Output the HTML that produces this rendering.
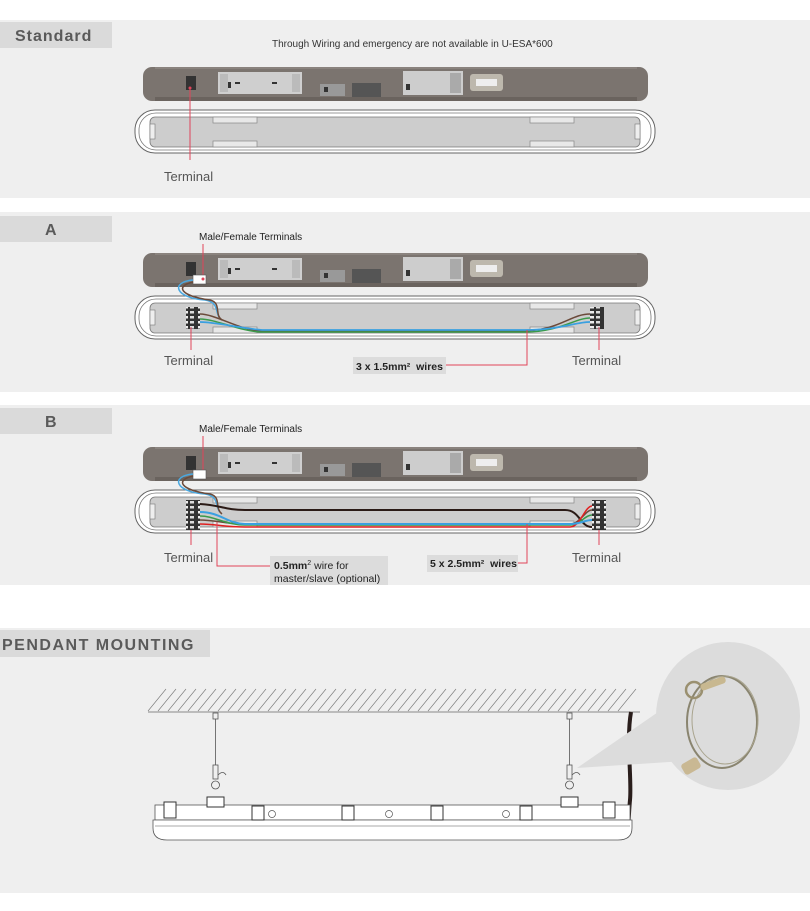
<!DOCTYPE html>
<html><head><meta charset="utf-8"><style>
html,body{margin:0;padding:0;background:#fff;width:810px;height:911px;overflow:hidden}
svg{display:block}
text{font-family:"Liberation Sans",sans-serif}
</style></head><body>
<svg width="810" height="911" viewBox="0 0 810 911" xmlns="http://www.w3.org/2000/svg">
<defs>
<pattern id="tb" width="14" height="5" patternUnits="userSpaceOnUse">
  <rect width="14" height="5" fill="#333"/><rect x="2" y="1" width="4" height="2.5" fill="#eee"/><rect x="8" y="1" width="4" height="2.5" fill="#ddd"/>
</pattern>
<g id="fix">
  <rect x="143" y="67" width="505" height="34" rx="9" fill="#7b746f"/>
  <rect x="155" y="97" width="482" height="4" fill="#6a635e"/>
  <rect x="155" y="67" width="482" height="2" fill="#8a837e"/>
  <rect x="186" y="76" width="10" height="14" fill="#333"/>
  <rect x="218" y="72" width="84" height="22" fill="#cfcfcf"/>
  <rect x="228" y="82" width="3" height="6" fill="#333"/><rect x="235" y="82" width="5" height="2" fill="#333"/><rect x="272" y="82" width="5" height="2" fill="#333"/>
  <rect x="220" y="74" width="8" height="18" fill="#bbb"/><rect x="292" y="74" width="8" height="18" fill="#bbb"/>
  <rect x="320" y="84" width="25" height="12" fill="#999"/><rect x="324" y="87" width="4" height="5" fill="#333"/>
  <rect x="352" y="83" width="29" height="14" fill="#555"/>
  <rect x="403" y="71" width="60" height="24" fill="#cdcdcd"/><rect x="406" y="84" width="4" height="6" fill="#333"/>
  <rect x="450" y="73" width="11" height="20" fill="#aaa"/>
  <rect x="470" y="74" width="33" height="17" rx="3" fill="#bdb8ad"/><rect x="476" y="79" width="21" height="7" fill="#eee"/>
  <rect x="135" y="110" width="520" height="43" rx="20" fill="#fff" stroke="#666" stroke-width="1"/>
  <rect x="139" y="113" width="512" height="37" rx="17" fill="none" stroke="#777" stroke-width="0.8"/>
  <rect x="150" y="117" width="490" height="30" rx="5" fill="#cdcdcd" stroke="#777" stroke-width="0.8"/>
  <rect x="213" y="117" width="44" height="6" fill="#e8e8e8" stroke="#888" stroke-width="0.7"/>
  <rect x="213" y="141" width="44" height="6" fill="#e8e8e8" stroke="#888" stroke-width="0.7"/>
  <rect x="530" y="117" width="44" height="6" fill="#e8e8e8" stroke="#888" stroke-width="0.7"/>
  <rect x="530" y="141" width="44" height="6" fill="#e8e8e8" stroke="#888" stroke-width="0.7"/>
  <rect x="150" y="124" width="5" height="15" fill="#eee" stroke="#777" stroke-width="0.6"/>
  <rect x="635" y="124" width="5" height="15" fill="#eee" stroke="#777" stroke-width="0.6"/>
</g>
</defs>

<rect x="0" y="20" width="810" height="178" fill="#efefef"/>
<rect x="0" y="212" width="810" height="180" fill="#efefef"/>
<rect x="0" y="405" width="810" height="180" fill="#efefef"/>
<rect x="0" y="628" width="810" height="265" fill="#efefef"/>

<rect x="0" y="22" width="112" height="26" fill="#dadada"/>
<text x="15" y="41" font-size="16" font-weight="bold" fill="#5a5a5a" letter-spacing="1">Standard</text>
<rect x="0" y="216" width="112" height="26" fill="#dadada"/>
<text x="45" y="235" font-size="16" font-weight="bold" fill="#5a5a5a">A</text>
<rect x="0" y="408" width="112" height="26" fill="#dadada"/>
<text x="45" y="427" font-size="16" font-weight="bold" fill="#5a5a5a">B</text>
<rect x="0" y="630" width="210" height="27" fill="#dadada"/>
<text x="2" y="650" font-size="16" font-weight="bold" fill="#5a5a5a" letter-spacing="1.5">PENDANT MOUNTING</text>

<text x="272" y="47" font-size="10" fill="#333">Through Wiring and emergency are not available in U-ESA*600</text>
<use href="#fix"/>
<line x1="190" y1="88" x2="190" y2="160" stroke="#e0445a" stroke-width="1"/>
<circle cx="190" cy="88" r="1.5" fill="#e0445a"/>
<text x="164" y="181" font-size="13" fill="#555">Terminal</text>

<g transform="translate(0,186)"><use href="#fix"/></g>
<text x="199" y="240" font-size="10" fill="#222">Male/Female Terminals</text>
<line x1="203" y1="244" x2="203" y2="277" stroke="#e0445a"/>
<rect x="193" y="275" width="13" height="9" fill="#fff" stroke="#555" stroke-width="0.6"/>
<circle cx="203" cy="279" r="1.5" fill="#e0445a"/>
<path d="M193 280 C170 282,175 298,205 300 C220 302,215 315,220 318" fill="none" stroke="#4aa8e0" stroke-width="1.5"/>
<path d="M193 282 C175 286,180 296,210 300 C222 303,214 315,222 320" fill="none" stroke="#6b4a3a" stroke-width="1.5"/>
<rect x="186" y="307" width="14" height="22" fill="url(#tb)"/>
<rect x="590" y="307" width="14" height="22" fill="url(#tb)"/>
<path d="M200 314 C215 314,240 330,260 331 L520 331 C560 331,570 314,590 314" fill="none" stroke="#6b4a3a" stroke-width="1.5"/>
<path d="M200 319 C215 319,240 331,260 332 L525 332 C560 332,575 318,590 318" fill="none" stroke="#3a9a4a" stroke-width="1.5"/>
<path d="M200 322 C215 322,240 328,262 330 L525 330 C560 330,575 322,590 322" fill="none" stroke="#3aa0e0" stroke-width="1.8"/>
<line x1="191" y1="327" x2="191" y2="350" stroke="#e0445a"/>
<line x1="599" y1="327" x2="599" y2="350" stroke="#e0445a"/>
<text x="164" y="365" font-size="13" fill="#555">Terminal</text>
<text x="572" y="365" font-size="13" fill="#555">Terminal</text>
<path d="M527 330 L527 365 L446 365" fill="none" stroke="#e0445a"/>
<rect x="353" y="357" width="93" height="17" fill="#dcdcdc"/>
<text x="356" y="370" font-size="10.5" font-weight="bold" fill="#222">3 x 1.5mm² &#160;wires</text>

<g transform="translate(0,380)"><use href="#fix"/></g>
<text x="199" y="432" font-size="10" fill="#222">Male/Female Terminals</text>
<line x1="203" y1="436" x2="203" y2="472" stroke="#e0445a"/>
<rect x="193" y="470" width="13" height="9" fill="#fff" stroke="#555" stroke-width="0.6"/>
<path d="M193 474 C170 476,175 492,205 494 C220 496,215 508,220 512" fill="none" stroke="#4aa8e0" stroke-width="1.5"/>
<path d="M193 476 C175 480,180 490,210 494 C222 497,214 508,222 514" fill="none" stroke="#6b4a3a" stroke-width="1.5"/>
<rect x="186" y="500" width="14" height="30" fill="url(#tb)"/>
<rect x="592" y="500" width="14" height="30" fill="url(#tb)"/>
<path d="M200 504 C220 505,225 510,245 510 L565 510 C580 510,580 527,592 527" fill="none" stroke="#2a1a16" stroke-width="2"/>
<path d="M200 520 C215 520,225 524,245 524 L570 524 C580 524,585 510,592 510" fill="none" stroke="#6b4a3a" stroke-width="1.5"/>
<path d="M200 516 C215 516,225 525,245 525 L570 525 C580 525,585 515,592 515" fill="none" stroke="#3a9a4a" stroke-width="1.5"/>
<path d="M200 524 C215 524,225 527,245 527 L570 527 C580 527,585 506,592 506" fill="none" stroke="#e02020" stroke-width="1.5"/>
<path d="M200 512 C220 512,228 524,245 524 L570 524 C580 524,585 520,592 520" fill="none" stroke="#3aa0e0" stroke-width="2"/>
<line x1="191" y1="530" x2="191" y2="545" stroke="#e0445a"/>
<line x1="599" y1="530" x2="599" y2="545" stroke="#e0445a"/>
<text x="164" y="562" font-size="13" fill="#555">Terminal</text>
<text x="572" y="562" font-size="13" fill="#555">Terminal</text>
<path d="M217 522 L217 566 L270 566" fill="none" stroke="#e0445a"/>
<rect x="270" y="556" width="118" height="29" fill="#dcdcdc"/>
<text x="274" y="569" font-size="10.5" fill="#222"><tspan font-weight="bold">0.5mm</tspan><tspan font-size="7" dy="-4">2</tspan><tspan dy="4"> wire for</tspan></text>
<text x="274" y="582" font-size="10.5" fill="#222">master/slave (optional)</text>
<path d="M527 524 L527 563 L518 563" fill="none" stroke="#e0445a"/>
<rect x="427" y="555" width="91" height="17" fill="#dcdcdc"/>
<text x="430" y="567" font-size="10.5" font-weight="bold" fill="#222">5 x 2.5mm² &#160;wires</text>

<line x1="148" y1="712" x2="640" y2="712" stroke="#666" stroke-width="0.8"/>
<path d="M148 711 l18 -22 M158 711 l18 -22 M168 711 l18 -22 M178 711 l18 -22 M188 711 l18 -22 M198 711 l18 -22 M208 711 l18 -22 M218 711 l18 -22 M228 711 l18 -22 M238 711 l18 -22 M248 711 l18 -22 M258 711 l18 -22 M268 711 l18 -22 M278 711 l18 -22 M288 711 l18 -22 M298 711 l18 -22 M308 711 l18 -22 M318 711 l18 -22 M328 711 l18 -22 M338 711 l18 -22 M348 711 l18 -22 M358 711 l18 -22 M368 711 l18 -22 M378 711 l18 -22 M388 711 l18 -22 M398 711 l18 -22 M408 711 l18 -22 M418 711 l18 -22 M428 711 l18 -22 M438 711 l18 -22 M448 711 l18 -22 M458 711 l18 -22 M468 711 l18 -22 M478 711 l18 -22 M488 711 l18 -22 M498 711 l18 -22 M508 711 l18 -22 M518 711 l18 -22 M528 711 l18 -22 M538 711 l18 -22 M548 711 l18 -22 M558 711 l18 -22 M568 711 l18 -22 M578 711 l18 -22 M588 711 l18 -22 M598 711 l18 -22 M608 711 l18 -22 M618 711 l18 -22" stroke="#777" stroke-width="0.6" fill="none"/>
<g stroke="#555" fill="none" stroke-width="0.8">
<rect x="213" y="713" width="5" height="6"/><line x1="215.5" y1="719" x2="215.5" y2="765"/><rect x="213" y="765" width="5" height="14"/><circle cx="215.5" cy="785" r="4"/>
<rect x="567" y="713" width="5" height="6"/><line x1="569.5" y1="719" x2="569.5" y2="765"/><rect x="567" y="765" width="5" height="14"/><circle cx="569.5" cy="785" r="4"/>
<path d="M218 775 q5 -5 8 0"/><path d="M572 775 q5 -5 8 0"/>
</g>
<path d="M631 712 C626 740,632 780,630 800 C628 820,630 830,622 838" fill="none" stroke="#2a1e1c" stroke-width="4"/>
<rect x="155" y="805" width="475" height="15" fill="#fff" stroke="#555" stroke-width="0.8"/>
<path d="M153 820 L632 820 L632 828 Q632 840 618 840 L167 840 Q153 840 153 828 Z" fill="#fff" stroke="#555" stroke-width="0.8"/>
<line x1="155" y1="826" x2="630" y2="826" stroke="#555" stroke-width="0.6"/>
<g fill="#fff" stroke="#333" stroke-width="1">
<rect x="164" y="802" width="12" height="16"/><rect x="252" y="806" width="12" height="14"/><rect x="342" y="806" width="12" height="14"/><rect x="431" y="806" width="12" height="14"/><rect x="520" y="806" width="12" height="14"/><rect x="603" y="802" width="12" height="16"/>
<rect x="207" y="797" width="17" height="10"/><rect x="561" y="797" width="17" height="10"/>
</g>
<g fill="none" stroke="#555" stroke-width="0.7"><circle cx="272" cy="814" r="3.5"/><circle cx="389" cy="814" r="3.5"/><circle cx="506" cy="814" r="3.5"/></g>
<polygon points="577,768 690,690 700,760" fill="#dcdcdc"/>
<ellipse cx="728" cy="716" rx="72" ry="74" fill="#dcdcdc"/>
<ellipse cx="722" cy="722" rx="35" ry="46" fill="none" stroke="#8a8570" stroke-width="2"/>
<ellipse cx="725" cy="720" rx="33" ry="44" fill="none" stroke="#a9a48e" stroke-width="1"/>
<circle cx="694" cy="690" r="8" fill="none" stroke="#9a9070" stroke-width="2.5"/>
<rect x="700" y="680" width="26" height="7" rx="3" fill="#c8b890" transform="rotate(-20 713 683)"/>
<rect x="682" y="760" width="18" height="12" rx="3" fill="#c9b893" transform="rotate(-30 691 766)"/>
</svg>
</body></html>
